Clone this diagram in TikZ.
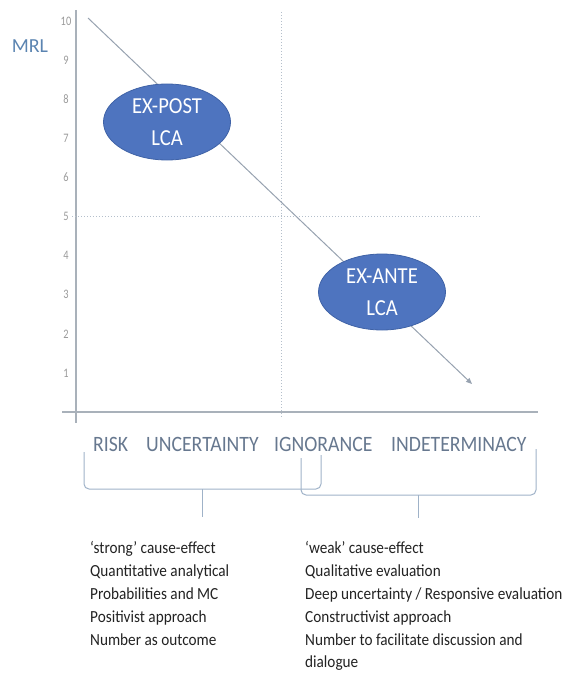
\documentclass[tikz,border=0pt]{standalone}
\usepackage{fontspec}
\setmainfont{Carlito}
\newfontfamily\narrowfont[FakeStretch=0.9]{Carlito}
\newfontfamily\tickfont[FakeStretch=0.8]{Carlito}
\usetikzlibrary{arrows.meta,shapes.geometric}
\definecolor{axisgrey}{HTML}{A9B1BA}
\definecolor{dotgrey}{HTML}{B4BFCB}
\definecolor{diaggrey}{HTML}{97A2B0}
\definecolor{ellfill}{HTML}{4E74BF}
\definecolor{elldraw}{HTML}{3F62A6}
\definecolor{mrlblue}{HTML}{5B84B1}
\definecolor{catgrey}{HTML}{67788F}
\definecolor{bracegrey}{HTML}{9FB2C8}
\definecolor{tickgrey}{HTML}{9A9A9A}
\definecolor{bodytext}{HTML}{222222}
\begin{document}
\begin{tikzpicture}[x=1bp,y=-1bp,
  axisline/.style={draw=axisgrey,line width=1.2bp},
  dotline/.style={draw=dotgrey,line width=1bp,dotted},
  diag/.style={draw=diaggrey,line width=1bp,-{Triangle[length=6bp,width=5bp]}},
  ell/.style={ellipse,fill=ellfill,draw=elldraw,line width=0.8bp,minimum width=127bp,minimum height=76bp,inner sep=0pt,text=white,align=center,font=\narrowfont\fontsize{23}{32}\selectfont},
  tick/.style={text=tickgrey,inner sep=0pt,font=\tickfont\fontsize{13}{14}\selectfont},
  cat/.style={text=catgrey,inner sep=0pt,anchor=base west,font=\narrowfont\fontsize{22}{24}\selectfont},
  bracestyle/.style={draw=bracegrey,line width=1bp,rounded corners=5bp},
  body/.style={text=bodytext,inner sep=0pt,anchor=north west,align=left,font=\narrowfont\fontsize{17}{23}\selectfont}
]
\useasboundingbox (0,0) rectangle (569,674);
% axes
\coordinate (ytop) at (76,10);
\coordinate (ybot) at (76,423);
\coordinate (xl) at (62,412);
\coordinate (xr) at (538,412);
\draw[axisline] (ytop) -- (ybot);
\draw[axisline] (xl) -- (xr);
% dotted guides
\coordinate (vtop) at (281,12);
\coordinate (vbot) at (281,418);
\coordinate (hl) at (72,216);
\coordinate (hr) at (480,216);
\draw[dotline] (vtop) -- (vbot);
\draw[dotline] (hl) -- (hr);
% ticks
\foreach \v in {1,...,10} {
  \node[tick] (t\v) at (66,{21+(10-\v)*39.1}) {\v};
}
\node[text=mrlblue,inner sep=0pt,font=\fontsize{20}{22}\selectfont] (mrl) at (30,46) {MRL};
% diagonal
\coordinate (dstart) at (88,18);
\coordinate (dend) at (472,384);
\draw[diag] (dstart) -- (dend);
% ellipses
\node[ell] (post) at (167,122) {EX-POST\\LCA};
\node[ell] (ante) at (382,292) {EX-ANTE\\LCA};
% categories
\node[cat] (risk) at (93,451) {RISK};
\node[cat] (unc) at (146,451) {UNCERTAINTY};
\node[cat] (ign) at (274,451) {IGNORANCE};
\node[cat] (ind) at (391,451) {INDETERMINACY};
% braces
\draw[bracestyle] (84,452) |- (321,489) -- (321,455);
\draw[bracestyle] (202,489) -- (202,517);
\draw[bracestyle] (301,458) |- (536,495) -- (536,449);
\draw[bracestyle] (418,495) -- (418,518);
% text blocks
\node[body] (left) at (90,541) {‘strong’ cause-effect\\Quantitative analytical\\Probabilities and MC\\Positivist approach\\Number as outcome};
\node[body] (right) at (305,541) {‘weak’ cause-effect\\Qualitative evaluation\\Deep uncertainty / Responsive evaluation\\Constructivist approach\\Number to facilitate discussion and\\dialogue};
\end{tikzpicture}
\end{document}
